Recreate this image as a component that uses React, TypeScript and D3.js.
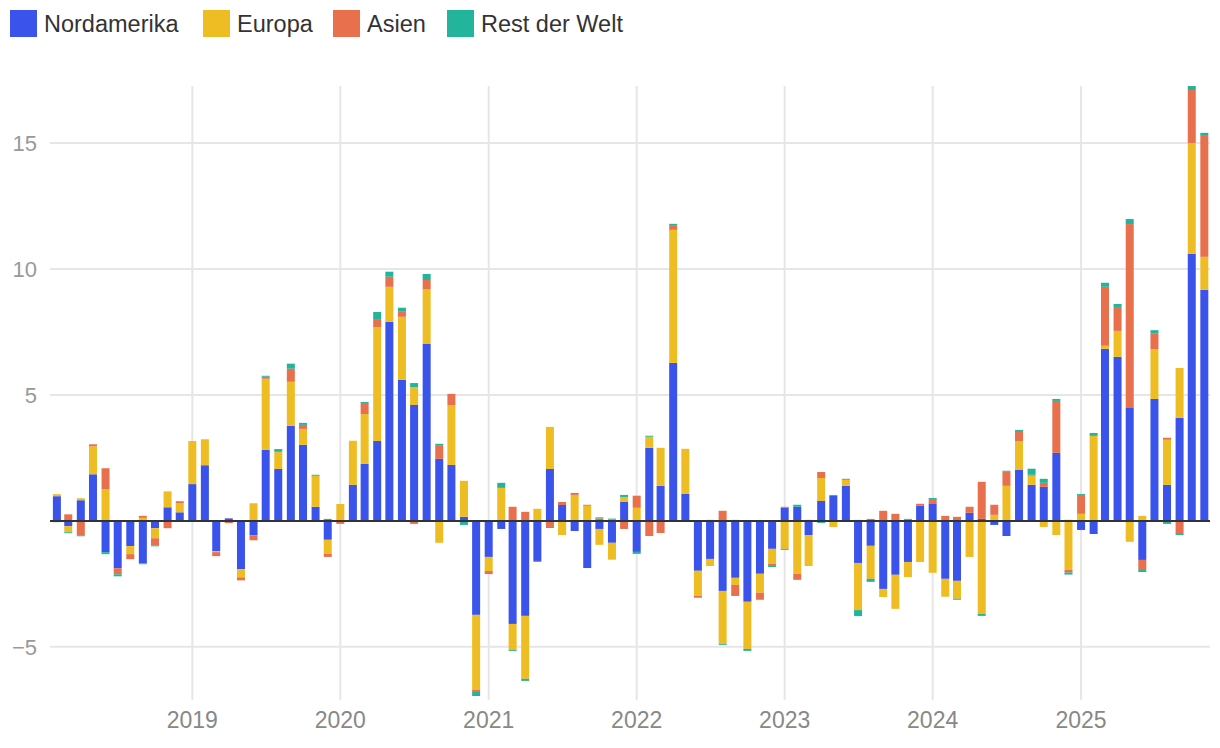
import React from "react";
import * as d3 from "d3";

const seriesNames = ["Nordamerika", "Europa", "Asien", "Rest der Welt"];
const seriesColors = ["#3a53ea", "#eebd24", "#e8704d", "#22b59c"];

const startMonth = "2018-02";
const monthCount = 94;

const nordamerika = [
  0.98, -0.21, 0.82, 1.85, -1.24, -1.88, -1.0, -1.68, -0.29, 0.54, 0.34,
  1.46, 2.21, -1.2, 0.1, -1.92, -0.57, 2.82, 2.06, 3.77, 3.02, 0.56, -0.75,
  0, 1.43, 2.26, 3.17, 7.9, 5.6, 4.6, 7.02, 2.46, 2.22, 0.16, -3.73,
  -1.43, -0.32, -4.09, -3.77, -1.59, 2.06, 0.63, -0.4, -1.87, -0.32, -0.87, 0.75,
  -1.23, 2.9, 1.39, 6.27, 1.07, -1.98, -1.51, -2.78, -2.26, -3.21, -2.1, -1.11,
  0.52, 0.56, -0.56, 0.79, 0.99, 1.39, -1.67, -0.99, -2.7, -2.14, -1.63, 0.6,
  0.67, -2.3, -2.38, 0.32, 0.08, -0.16, -0.6, 2.02, 1.43, 1.35, 2.7, 0.04,
  -0.36, -0.52, 6.83, 6.51, 4.48, -1.55, 4.84, 1.43, 4.09, 10.6, 9.17,
];
const europa = [
  0.08, -0.24, 0.08, 1.11, 1.26, 0, -0.32, 0.12, -0.4, 0.63, 0.36,
  1.71, 1.03, -0.04, 0, -0.32, 0.7, 2.82, 0.67, 1.75, 0.63, 1.23, -0.56,
  0.67, 1.75, 1.98, 4.52, 1.39, 2.5, 0.71, 2.18, -0.87, 2.38, 1.43, -2.98,
  -0.56, 1.31, -1.03, -2.5, 0.48, 1.67, -0.56, 1.03, 0.6, -0.63, -0.67, 0.2,
  0.52, 0.44, 1.51, 5.28, 1.79, -0.99, -0.28, -2.1, -0.28, -1.87, -0.75, -0.6,
  -1.11, -2.1, -1.23, 0.91, -0.24, 0.24, -1.87, -1.31, -0.32, -1.35, -0.6, -1.63,
  -2.06, -0.71, -0.71, -1.43, -3.69, 0.24, 1.39, 1.15, 0.36, -0.24, -0.56, -1.95,
  0.28, 3.37, 0.12, 1.03, -0.83, 0.2, 1.98, 1.79, 1.98, 4.4, 1.31,
];
const asien = [
  0, 0.26, -0.57, 0.08, 0.83, -0.24, -0.2, 0.08, -0.28, -0.29, 0.08,
  0, 0, -0.16, -0.09, -0.12, -0.2, 0.08, 0.04, 0.52, 0.16, 0, -0.12,
  -0.12, 0, 0.44, 0.32, 0.4, 0.2, -0.12, 0.36, 0.52, 0.44, 0, -0.08,
  -0.12, 0, 0.56, 0.36, -0.04, -0.24, 0.12, 0.04, 0.04, 0.1, 0.05, -0.32,
  0.48, -0.6, -0.48, 0.16, 0, -0.08, 0, 0.4, -0.44, 0, -0.28, -0.08,
  0.04, -0.24, 0, 0.24, 0, 0, 0.04, 0.08, 0.4, 0.28, 0.04, 0.08,
  0.2, 0.2, 0.16, 0.24, 1.47, 0.4, 0.56, 0.36, 0.04, 0.16, 2.06, -0.1,
  0.75, 0.04, 2.34, 0.95, 7.3, -0.4, 0.63, 0.08, -0.52, 2.1, 4.8,
];
const restDerWelt = [
  -0.05, -0.04, -0.04, 0, -0.08, -0.08, 0, -0.04, -0.04, 0, 0,
  0, 0, 0, 0, 0, 0, 0.04, 0.08, 0.2, 0.08, 0.04, 0.08,
  0, 0, 0.04, 0.28, 0.2, 0.16, 0.16, 0.24, 0.08, 0, -0.16, -0.16,
  0, 0.2, -0.04, -0.08, 0, -0.04, 0, 0.04, 0, 0.04, 0.04, 0.08,
  -0.08, 0.04, 0, 0.08, 0, 0, 0.04, -0.04, 0.04, -0.08, 0, -0.04,
  -0.04, 0.08, 0.04, -0.08, 0.04, 0.04, -0.24, -0.12, 0, 0, 0.04, 0,
  0.04, 0, -0.04, 0, -0.08, 0, 0.04, 0.08, 0.24, 0.16, 0.08, -0.08,
  0.04, 0.08, 0.16, 0.12, 0.2, -0.08, 0.12, -0.12, -0.04, 0.16, 0.12,
];

const yTicks = [-5, 5, 10, 15];
const yearTicks = [2019, 2020, 2021, 2022, 2023, 2024, 2025];

const W = 1220;
const H = 748;
const plotLeft = 50;
const plotRight = 1210;
const plotTop = 86;
const plotBottom = 696;

export default function App() {
  const parse = d3.timeParse("%Y-%m");
  const start = parse(startMonth) as Date;
  const months = d3.range(monthCount).map((i) => d3.timeMonth.offset(start, i));
  const values = [nordamerika, europa, asien, restDerWelt];
  const rows = months.map((m, i) => {
    const r: any = { date: m };
    seriesNames.forEach((s, j) => (r[s] = values[j][i]));
    return r;
  });
  const stacked = d3
    .stack<any>()
    .keys(seriesNames)
    .offset(d3.stackOffsetDiverging)(rows);

  const yMin = d3.min(stacked, (s) => d3.min(s, (d) => d[0])) as number;
  const yMax = d3.max(stacked, (s) => d3.max(s, (d) => d[1])) as number;

  const x = d3
    .scaleTime()
    .domain([new Date(2018, 0, 15), new Date(2025, 10, 15)])
    .range([plotLeft, plotRight]);
  const y = d3.scaleLinear().domain([yMin, yMax]).range([plotBottom, plotTop]);
  const barW = 8;
  const fmt = d3.format("d");
  const font = "'Liberation Sans', Arial, Helvetica, sans-serif";

  const legendX = [10, 203, 333, 447];

  return (
    <svg
      width={W}
      height={H}
      style={{ position: "absolute", left: 0, top: 0, background: "#fff" }}
      fontFamily={font}
    >
      {/* legend */}
      {seriesNames.map((s, i) => (
        <g key={s}>
          <rect x={legendX[i]} y={10} width={27} height={27} fill={seriesColors[i]} />
          <text x={legendX[i] + 34} y={32} fontSize={23.5} fill="#333">
            {s}
          </text>
        </g>
      ))}
      {/* gridlines */}
      {yTicks.map((t) => (
        <line
          key={"h" + t}
          x1={plotLeft}
          x2={plotRight}
          y1={y(t)}
          y2={y(t)}
          stroke="#e6e6e6"
          strokeWidth={2}
        />
      ))}
      {yearTicks.map((yr) => {
        const xx = x(new Date(yr, 0, 1));
        return (
          <line
            key={"v" + yr}
            x1={xx}
            x2={xx}
            y1={plotTop}
            y2={plotBottom + 4}
            stroke="#e6e6e6"
            strokeWidth={2}
          />
        );
      })}
      {/* bars */}
      {stacked.map((s, j) => (
        <g key={s.key} fill={seriesColors[j]}>
          {s.map((d, i) => {
            const y0 = y(d[0]);
            const y1 = y(d[1]);
            const h = Math.abs(y0 - y1);
            if (h <= 0) return null;
            return (
              <rect
                key={i}
                x={x(d.data.date) - barW / 2}
                y={Math.min(y0, y1)}
                width={barW}
                height={h}
              />
            );
          })}
        </g>
      ))}
      {/* zero line */}
      <line x1={plotLeft} x2={plotRight} y1={y(0)} y2={y(0)} stroke="#333" strokeWidth={2} />
      {/* y labels */}
      {yTicks.map((t) => (
        <text
          key={"yl" + t}
          x={37}
          y={y(t) + 8}
          textAnchor="end"
          fontSize={22}
          fill="#999"
        >
          {fmt(t)}
        </text>
      ))}
      {/* x labels */}
      {yearTicks.map((yr) => (
        <text
          key={"xl" + yr}
          x={x(new Date(yr, 0, 1))}
          y={728}
          textAnchor="middle"
          fontSize={23}
          fill="#888"
        >
          {yr}
        </text>
      ))}
    </svg>
  );
}
